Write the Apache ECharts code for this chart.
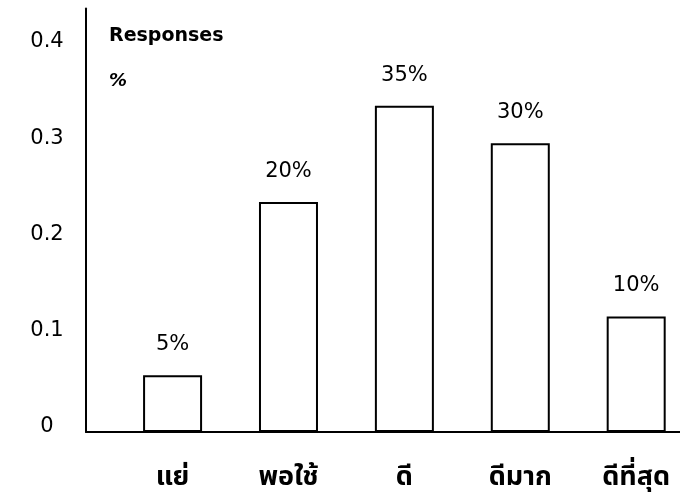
<!DOCTYPE html>
<html>
<head>
<meta charset="utf-8">
<script src="https://cdn.jsdelivr.net/npm/echarts@6/dist/echarts.min.js"></script>
<style>
html,body{margin:0;padding:0;background:#fff;}
#chart{width:680px;height:500px;}
</style>
</head>
<body>
<div id="chart"></div>
<script>
const categories = ['แย่', 'พอใช้', 'ดี', 'ดีมาก', 'ดีที่สุด'];
const values = [0.059, 0.239, 0.339, 0.300, 0.120];
const barLabels = ['5%', '20%', '35%', '30%', '10%'];
const yTickValues = [0, 0.1, 0.2, 0.3, 0.4];
const yTickLabels = ['0', '0.1', '0.2', '0.3', '0.4'];
const positions = [0, 1, 2, 3, 4];

const chart = echarts.init(document.getElementById('chart'), null, {renderer: 'canvas'});
const numFont = 'DejaVu Sans';
const thaiFont = '"Noto Sans Thai", "Noto Sans Thai Looped", "Loma", "Tlwg Typo", "Garuda", "Noto Sans", sans-serif';

chart.setOption({
  animation: false,
  backgroundColor: '#fff',
  title: {
    text: 'Responses',
    subtext: '%',
    left: 109,
    top: 27,
    padding: 0,
    itemGap: 26,
    textStyle: {fontFamily: numFont, fontSize: 19, fontWeight: 'bold', color: '#000'},
    subtextStyle: {fontFamily: numFont, fontSize: 18, fontWeight: 'bold', fontStyle: 'italic', color: '#000'}
  },
  grid: {left: 86, right: 0, top: 8.5, bottom: 68, containLabel: false},
  xAxis: {
    type: 'value',
    min: -0.747,
    max: 4.378,
    splitLine: {show: false},
    axisLine: {show: true, onZero: false, lineStyle: {color: '#000', width: 2}},
    axisTick: {show: false},
    axisLabel: {
      customValues: positions,
      formatter: function (v) { return categories[Math.round(v)]; },
      fontFamily: thaiFont,
      fontSize: 27,
      fontWeight: 'bold',
      color: '#000',
      margin: 34
    }
  },
  yAxis: {
    type: 'value',
    min: 0,
    max: 0.44,
    interval: 0.1,
    splitLine: {show: false},
    axisLine: {show: true, onZero: false, lineStyle: {color: '#000', width: 2}},
    axisTick: {show: false},
    axisLabel: {
      showMaxLabel: false,
      align: 'center',
      verticalAlign: 'bottom',
      lineHeight: 10,
      margin: 39,
      fontFamily: numFont,
      fontSize: 21,
      color: '#000',
      formatter: function (v) {
        const i = yTickValues.findIndex(t => Math.abs(t - v) < 1e-9);
        return i >= 0 ? yTickLabels[i] : '';
      }
    }
  },
  series: [{
    type: 'bar',
    barWidth: 59,
    data: values.map((v, i) => [positions[i], v]),
    itemStyle: {color: '#fff', borderColor: '#000', borderWidth: 2},
    label: {
      show: true,
      position: 'top',
      distance: 20,
      fontFamily: numFont,
      fontSize: 21,
      color: '#000',
      formatter: function (p) { return barLabels[p.dataIndex]; }
    }
  }]
});
</script>
</body>
</html>
